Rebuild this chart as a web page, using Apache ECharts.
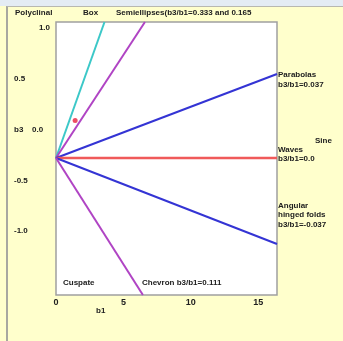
<!DOCTYPE html>
<html>
<head>
<meta charset="utf-8">
<script src="https://cdn.jsdelivr.net/npm/echarts@6/dist/echarts.min.js"></script>
<style>
html,body{margin:0;padding:0;width:343px;height:341px;overflow:hidden;background:#FFFFCC;}
#strip{position:absolute;left:0;top:0;width:343px;height:6px;background:#e4ecf4;}
#frame{position:absolute;left:6px;top:6px;width:337px;height:335px;border-left:2px solid #a8a8a0;border-top:1px solid #b8b8b0;box-sizing:border-box;}
#chart{position:absolute;left:0;top:0;width:343px;height:341px;}
</style>
</head>
<body>
<div id="strip"></div>
<div id="frame"></div>
<div id="chart"></div>
<script>
// Axis ranges and ticks
const xTicks = [0, 5, 10, 15];
const yTicks = [-1.0, -0.5, 0.0, 0.5, 1.0];
const xRange = [0, 16.4];
const yRange = [-1.63, 1.06];

// Line series (b1, b3) end points, all from the common vertex
const vertex = [0, -0.28];
const cyanLine = [vertex, [3.6, 1.06]];
const magentaUpper = [vertex, [6.6, 1.06]];
const blueUpper = [vertex, [16.4, 0.548]];
const redLine = [vertex, [16.4, -0.28]];
const blueLower = [vertex, [16.4, -1.127]];
const magentaLower = [vertex, [6.45, -1.63]];
const redDot = [[1.42, 0.09]];

// Annotation texts
const topLabels = [
  {text: 'Polyclinal', x: 15},
  {text: 'Box', x: 83},
  {text: 'Semiellipses(b3/b1=0.333 and 0.165', x: 116}
];
const rightLabels = [
  {text: 'Parabolas', x: 278, y: 76},
  {text: 'b3/b1=0.037', x: 278, y: 86},
  {text: 'Sine', x: 315, y: 142},
  {text: 'Waves', x: 278, y: 151},
  {text: 'b3/b1=0.0', x: 278, y: 160},
  {text: 'Angular', x: 278, y: 207},
  {text: 'hinged folds', x: 278, y: 216},
  {text: 'b3/b1=-0.037', x: 278, y: 226}
];
const bottomLabels = [
  {text: 'Cuspate', x: 63, y: 284},
  {text: 'Chevron b3/b1=0.111', x: 142, y: 284}
];
const xAxisTitle = {text: 'b1', x: 96, y: 312};

const FONT = 'Liberation Sans';
const TXT = '#202020';
const fs = 8;

function txt(t, x, y) {
  return {type: 'text', left: x, top: y - 5, style: {text: t, fill: TXT, font: 'bold ' + fs + 'px "' + FONT + '"'}};
}

const graphics = [];
topLabels.forEach(l => graphics.push(txt(l.text, l.x, 14)));
rightLabels.forEach(l => graphics.push(txt(l.text, l.x, l.y)));
bottomLabels.forEach(l => graphics.push(txt(l.text, l.x, l.y)));
graphics.push(txt(xAxisTitle.text, xAxisTitle.x, xAxisTitle.y));

function lineSeries(data, color, w) {
  return {type: 'line', data: data, symbol: 'none', lineStyle: {color: color, width: w || 2}, clip: true, animation: false, z: 3};
}

const chart = echarts.init(document.getElementById('chart'), null, {renderer: 'canvas'});
chart.setOption({
  animation: false,
  backgroundColor: 'transparent',
  grid: {left: 56, top: 22, right: 66, bottom: 46, show: true, backgroundColor: '#ffffff', borderColor: '#a0a0a0', borderWidth: 1.5},
  xAxis: {
    type: 'value', min: xRange[0], max: xRange[1],
    axisLine: {show: false}, axisTick: {show: false}, splitLine: {show: false},
    axisLabel: {customValues: xTicks, margin: 3, fontFamily: FONT, fontWeight: 'bold', fontSize: 9, color: TXT,
      formatter: v => String(v)}
  },
  yAxis: {
    type: 'value', min: yRange[0], max: yRange[1],
    axisLine: {show: false}, axisTick: {show: false}, splitLine: {show: false},
    axisLabel: {customValues: yTicks, margin: 42, align: 'left', fontFamily: FONT, fontWeight: 'bold', fontSize: fs, color: TXT,
      formatter: v => {
        const s = v.toFixed(1);
        if (v === 1) return '{r|' + s + '}';
        if (v === 0) return '{b|b3}{n|' + s + '}';
        return '{n|' + s + '}';
      },
      rich: {
        r: {width: 36, align: 'right', fontFamily: FONT, fontWeight: 'bold', fontSize: fs, color: TXT},
        b: {width: 18, fontFamily: FONT, fontWeight: 'bold', fontSize: fs, color: TXT},
        n: {fontFamily: FONT, fontWeight: 'bold', fontSize: fs, color: TXT}
      }
    }
  },
  series: [
    lineSeries(cyanLine, '#3cc8c8'),
    lineSeries(magentaUpper, '#b044c4'),
    lineSeries(blueUpper, '#3434d4'),
    lineSeries(redLine, '#f05a5a', 2.5),
    lineSeries(blueLower, '#3434d4'),
    lineSeries(magentaLower, '#b044c4'),
    {type: 'scatter', data: redDot, symbol: 'circle', symbolSize: 5, itemStyle: {color: '#e8203c'}, animation: false, z: 4}
  ],
  graphic: graphics
});
</script>
</body>
</html>
